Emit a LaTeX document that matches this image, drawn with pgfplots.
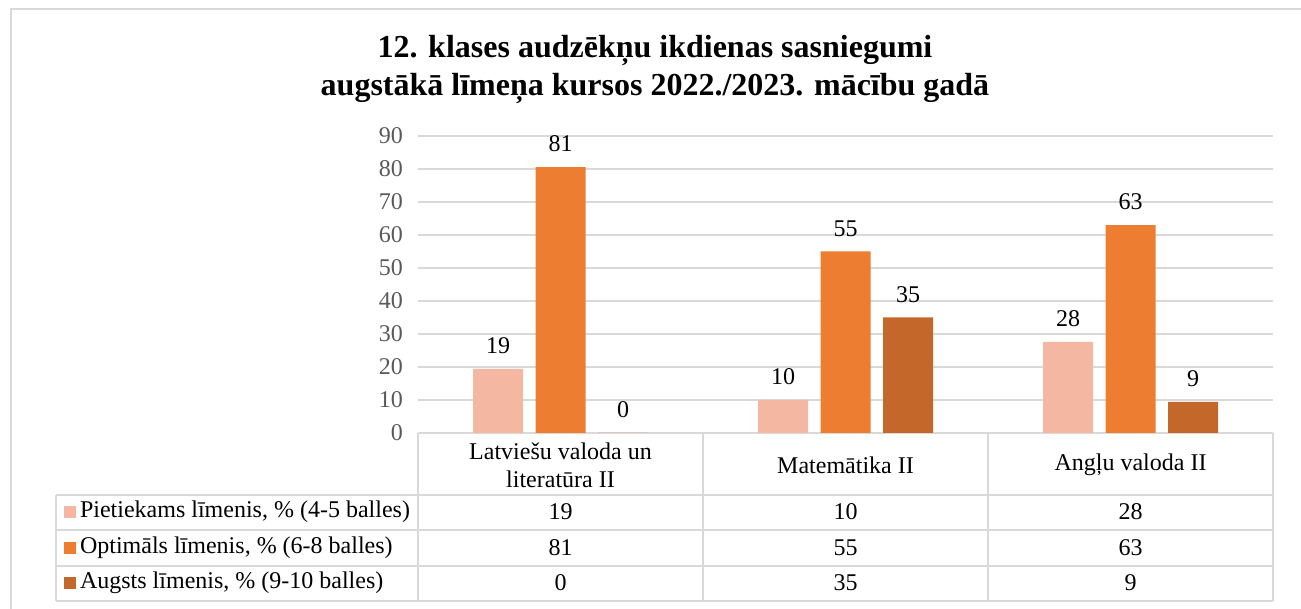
\documentclass[border=0pt]{standalone}
\usepackage{fontspec}
\setmainfont{Liberation Serif}
\usepackage{pgfplots}
\pgfplotsset{compat=1.18}
\definecolor{cLow}{HTML}{F4B8A2}
\definecolor{cMid}{HTML}{ED7D31}
\definecolor{cHigh}{HTML}{C4672B}
\definecolor{gridc}{HTML}{D9D9D9}
\definecolor{tickc}{HTML}{595959}
\newcommand{\bodyfont}{\fontsize{12}{14}\selectfont}

\begin{document}
\begin{tikzpicture}
\path[use as bounding box] (0,0) rectangle (650.5pt,304.5pt);
% decorations in reference pixel units (origin top left)
\begin{scope}[x=0.5pt,y=-0.5pt,yshift=304.5pt]
  \draw[gridc, line width=1pt] (11,609) -- (11,9) -- (1301,9);
  \node[font=\fontsize{16}{19}\selectfont\bfseries, align=center] at (655,69)
    {12. klases audzēkņu ikdienas sasniegumi\\augstākā līmeņa kursos 2022./2023. mācību gadā};
  % table grid
  \draw[gridc, line width=0.75pt]
    (56,495) -- (1273,495)
    (56,530) -- (1273,530)
    (56,566) -- (1273,566)
    (56,601) -- (1273,601)
    (56,495) -- (56,601)
    (418,433) -- (418,601)
    (703,433) -- (703,601)
    (988,433) -- (988,601)
    (1273,433) -- (1273,601)
    (418,433) -- (1273,433);
  % header
  \node[font=\bodyfont, align=center] at (560.5,465) {Latviešu valoda un\\literatūra II};
  \node[font=\bodyfont] at (845.5,465) {Matemātika II};
  \node[font=\bodyfont] at (1130.5,465) {Angļu valoda II};
  % legend keys
  \fill[cLow]  (64,506) rectangle (76,518);
  \fill[cMid]  (64,542) rectangle (76,554);
  \fill[cHigh] (64,577) rectangle (76,589);
  \node[font=\bodyfont, anchor=west] at (73,512) {Pietiekams līmenis, \% (4-5 balles)};
  \node[font=\bodyfont, anchor=west] at (73,548) {Optimāls līmenis, \% (6-8 balles)};
  \node[font=\bodyfont, anchor=west] at (73,583) {Augsts līmenis, \% (9-10 balles)};
  % table values
  \foreach \v/\c in {19/560.5,10/845.5,28/1130.5}
    \node[font=\bodyfont] at (\c,512) {\v};
  \foreach \v/\c in {81/560.5,55/845.5,63/1130.5}
    \node[font=\bodyfont] at (\c,548) {\v};
  \foreach \v/\c in {0/560.5,35/845.5,9/1130.5}
    \node[font=\bodyfont] at (\c,583) {\v};
\end{scope}

\begin{axis}[
  at={(209pt,88pt)}, anchor=south west,
  scale only axis, width=427.5pt, height=148.5pt,
  xmin=-0.5, xmax=2.5, ymin=0, ymax=90,
  ytick={0,10,...,90}, xtick=\empty,
  axis line style={draw=none},
  major tick length=0pt,
  ymajorgrids, grid style={gridc, line width=0.75pt},
  ybar=6.25pt, bar width=25pt,
  /pgf/number format/assume math mode=true,
  yticklabel style={font=\bodyfont, text=tickc, xshift=-4pt},
  nodes near coords,
  nodes near coords style={font=\bodyfont, text=black, yshift=4pt,
    /pgf/number format/fixed, /pgf/number format/precision=0},
  clip=false,
]
\addplot[fill=cLow, draw=none] coordinates {(0,19.4) (1,10) (2,27.6)};
\addplot[fill=cMid, draw=none] coordinates {(0,80.6) (1,55) (2,63)};
\addplot[fill=cHigh, draw=none] coordinates {(0,0) (1,35) (2,9.4)};
\end{axis}
\end{tikzpicture}
\end{document}
